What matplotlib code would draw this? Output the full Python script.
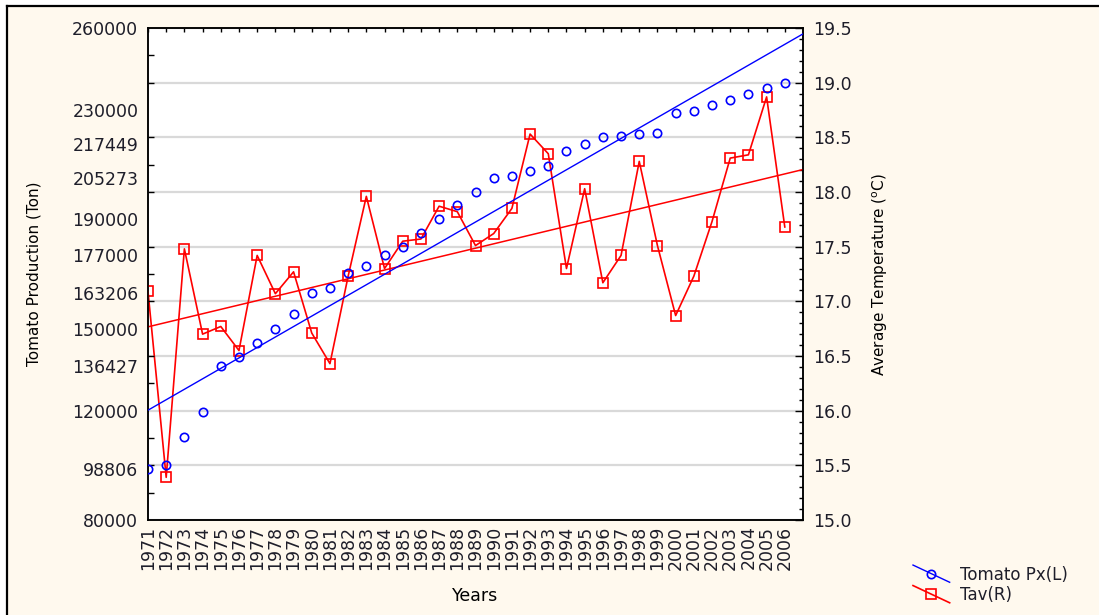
#!/usr/bin/env python3
"""Tomato production vs average temperature, 1971-2006, with linear trends."""

import matplotlib
matplotlib.use("Agg")
import matplotlib.pyplot as plt
import numpy as np
from matplotlib.legend_handler import HandlerLine2D
from matplotlib.lines import Line2D
from matplotlib.patches import Rectangle
from matplotlib.ticker import FixedLocator, FormatStrFormatter, MultipleLocator

years = list(range(1971, 2007))

production = [
    98806, 100100, 110250, 119600, 136427, 139750, 144900, 150000, 155250, 163206,
    165000, 170250, 173000, 177000, 180000, 184900, 190000, 195200, 200100, 205273,
    205850, 207800, 209600, 215000, 217449, 220100, 220600, 221100, 221500, 228900,
    229750, 231700, 233700, 235850, 237950, 239800,
]

temperature = [
    17.09, 15.39, 17.48, 16.70, 16.77, 16.55, 17.42, 17.07, 17.27, 16.71,
    16.43, 17.23, 17.96, 17.30, 17.55, 17.57, 17.87, 17.82, 17.51, 17.62,
    17.85, 18.53, 18.35, 17.30, 18.03, 17.17, 17.42, 18.28, 17.51, 16.87,
    17.23, 17.73, 18.31, 18.34, 18.87, 17.68,
]

left_ticks = [80000, 98806, 120000, 136427, 150000, 163206, 177000, 190000,
              205273, 217449, 230000, 260000]

BG = "#FFF9EE"
TXT = "#1E1E2A"


class DiagonalHandler(HandlerLine2D):
    def create_artists(self, legend, orig_handle, xdescent, ydescent, width, height, fontsize, trans):
        artists = super().create_artists(legend, orig_handle, xdescent, ydescent, width, height, fontsize, trans)
        line = artists[0]
        n = len(line.get_xdata())
        line.set_ydata(np.linspace(height - ydescent + 2, -ydescent - 2, n))
        return artists


plt.rcParams.update({
    "font.family": ["DejaVu Sans"],
    "text.color": TXT,
    "xtick.color": "black",
    "ytick.color": "black",
    "xtick.labelcolor": TXT,
    "ytick.labelcolor": TXT,
})

fig = plt.figure(figsize=(10.99, 6.15), dpi=100, facecolor="white")
fig.patches.append(Rectangle((7 / 1099, 0), 1, 1 - 6 / 615, transform=fig.transFigure,
                             facecolor=BG, edgecolor="none", zorder=-10))
fig.add_artist(Line2D([7 / 1099, 1.01], [1 - 6 / 615] * 2, transform=fig.transFigure, color="black", lw=1.6))
fig.add_artist(Line2D([7 / 1099] * 2, [-0.01, 1 - 6 / 615], transform=fig.transFigure, color="black", lw=1.6))

ax = fig.add_axes([148 / 1099, 1 - 520 / 615, 655 / 1099, 492 / 615])
ax2 = ax.twinx()
ax.set_zorder(ax2.get_zorder() + 1)
ax.patch.set_visible(False)
ax2.patch.set_visible(True)
ax2.patch.set_facecolor("white")

x = np.array(years)
xlim = np.array([1971, 2007])

# temperature (right axis) with grid
ax2.set_ylim(15.0, 19.5)
ax2.yaxis.set_major_locator(MultipleLocator(0.5))
ax2.yaxis.set_minor_locator(MultipleLocator(0.1))
ax2.yaxis.set_major_formatter(FormatStrFormatter("%.1f"))
ax2.grid(axis="y", color="#D9D9D9", linewidth=1.6)
ax2.set_axisbelow(True)
ax2.tick_params(axis="y", which="major", direction="in", length=6, width=1, labelsize=12.5, pad=7)
ax2.tick_params(axis="y", which="minor", direction="in", length=3, width=1)
ax2.plot(x, temperature, color="#FF0000", lw=1.2, marker="s", markersize=7.5,
         markerfacecolor="none", markeredgecolor="#FF0000", markeredgewidth=1.2, zorder=3)
t_fit = np.polyfit(x, temperature, 1)
ax2.plot(xlim, np.polyval(t_fit, xlim), color="#FF0000", lw=1.1, zorder=3)
ax2.set_ylabel("Average Temperature ($^{\\mathregular{o}}$C)", fontsize=11, labelpad=14)

# production (left axis)
ax.set_xlim(*xlim)
ax.set_ylim(80000, 260000)
ax.yaxis.set_major_locator(FixedLocator(left_ticks))
ax.yaxis.set_major_formatter(FormatStrFormatter("%d"))
ax.yaxis.set_minor_locator(MultipleLocator(10000))
ax.tick_params(axis="y", which="major", length=0, labelsize=12.5, pad=7)
ax.tick_params(axis="y", which="minor", direction="in", length=4, width=1)
ax.plot(x, production, linestyle="none", marker="o", markersize=6,
        markerfacecolor="none", markeredgecolor="#0000FF", markeredgewidth=1.2, zorder=4)
p_fit = np.polyfit(x, production, 1)
ax.plot(xlim, np.polyval(p_fit, xlim), color="#0000FF", lw=1.0, zorder=4)
ax.set_ylabel("Tomato Production (Ton)", fontsize=11, labelpad=22)

ax.set_xticks(years)
ax.set_xticklabels([str(y) for y in years], rotation=90, fontsize=12.5)
ax.tick_params(axis="x", which="major", direction="in", length=3, width=1,
               top=True, bottom=False, labelbottom=True, pad=4)
ax.set_xlabel("Years", fontsize=12.5, labelpad=12)

for a in (ax, ax2):
    for s in a.spines.values():
        s.set_linewidth(1.1)
        s.set_color("black")

handles = [
    Line2D([], [], color="#0000FF", lw=1.0, marker="o", markersize=6,
           markerfacecolor="none", markeredgewidth=1.2, label="Tomato Px(L)"),
    Line2D([], [], color="#FF0000", lw=1.2, marker="s", markersize=7,
           markerfacecolor="none", markeredgewidth=1.2, label="Tav(R)"),
]
fig.legend(handles=handles, loc="lower left", bbox_to_anchor=(898 / 1099, 1 - 619 / 615),
           frameon=False, fontsize=12, handlelength=2.2, handletextpad=0.6, labelspacing=0.15,
           handler_map={Line2D: DiagonalHandler()})

fig.savefig("out.png", dpi=100, facecolor="white")
